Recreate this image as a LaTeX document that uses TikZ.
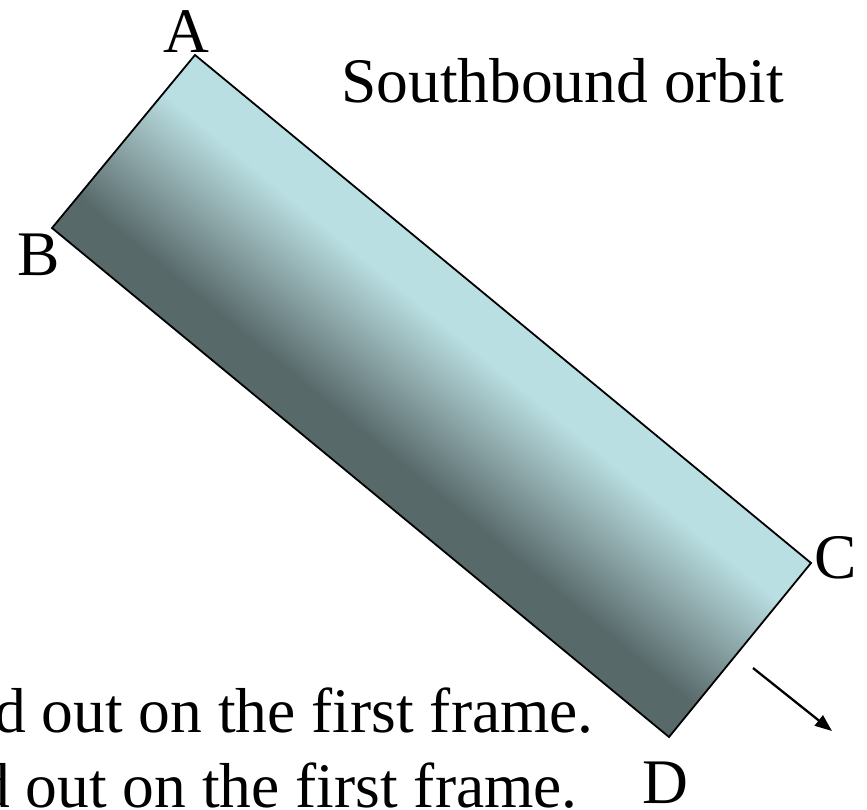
\documentclass[tikz,border=0pt]{standalone}
\usepackage{fontspec}
\setmainfont{Liberation Serif}
\usetikzlibrary{arrows.meta}
\definecolor{odark}{HTML}{58696A}
\definecolor{omid}{HTML}{8EA8AA}
\definecolor{olight}{HTML}{B9DFE2}
\pgfdeclareverticalshading{orbitshade}{100bp}{color(0bp)=(odark); color(34bp)=(odark); color(50bp)=(omid); color(64bp)=(olight); color(100bp)=(olight)}
\tikzset{
  lbl/.style={inner sep=0pt, anchor=base, font=\fontsize{63.5}{70}\selectfont},
  txt/.style={inner sep=0pt, font=\fontsize{63.5}{70}\selectfont},
  edge/.style={draw=black, line width=1.8pt, line join=miter},
  motion/.style={line width=2.3pt, -{Triangle[length=17pt,width=13pt]}}
}
\begin{document}
\begin{tikzpicture}[x=1pt,y=-1pt]
\useasboundingbox (0,0) rectangle (867,809);
\coordinate (A) at (195,55);
\coordinate (B) at (52,228);
\coordinate (C) at (811,563);
\coordinate (D) at (669,737);
\begin{scope}
  \clip (A) -- (B) -- (D) -- (C) -- cycle;
  \begin{scope}[transform canvas={shift={(B)}, rotate=-39.5}]
    \shade[shading=orbitshade] (-5pt,0pt) rectangle (810pt,224.5pt);
  \end{scope}
\end{scope}
\draw[edge] (A) -- (B) -- (D) -- (C) -- cycle;
\node[lbl] (la) at (186.5,52) {A};
\node[lbl] (lb) at (39,275) {B};
\node[lbl] (lc) at (836,578) {C};
\node[lbl] (ld) at (665.5,803) {D};
\node[txt, anchor=base west] (title) at (341,102) {Southbound orbit};
\node[txt, anchor=base east] (line1) at (594,732) {d out on the first frame.};
\node[txt, anchor=base east] (line2) at (578,807) {d out on the first frame.};
\coordinate (s0) at (753,668);
\coordinate (s1) at (832,731);
\draw[motion] (s0) -- (s1);
\end{tikzpicture}
\end{document}
